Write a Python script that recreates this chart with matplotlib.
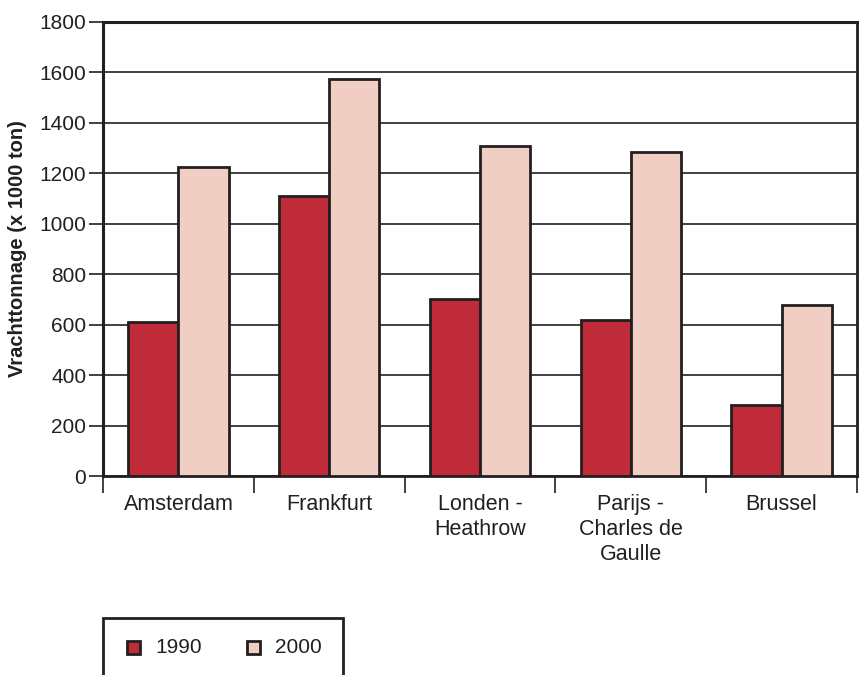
import matplotlib
matplotlib.use("Agg")
import matplotlib.pyplot as plt
import numpy as np
from matplotlib.patches import Rectangle

categories = ["Amsterdam", "Frankfurt", "Londen -\nHeathrow", "Parijs -\nCharles de\nGaulle", "Brussel"]
years = ["1990", "2000"]
values_1990 = [610, 1110, 700, 620, 282]
values_2000 = [1225, 1575, 1310, 1285, 677]

RED = "#C02B39"
PINK = "#F0CEC4"
EDGE = "#231F20"

plt.rcParams["font.family"] = ["Liberation Sans", "DejaVu Sans"]

fig = plt.figure(figsize=(8.59, 6.75), dpi=100)
ax = fig.add_axes([103 / 859, 199 / 675, 754 / 859, 454 / 675])

x = np.arange(len(categories))
w = 1 / 3
ax.bar(x - w / 2, values_1990, w, color=RED, edgecolor=EDGE, linewidth=2, zorder=3)
ax.bar(x + w / 2, values_2000, w, color=PINK, edgecolor=EDGE, linewidth=2, zorder=3)

ax.set_xlim(-0.5, len(categories) - 0.5)
ax.set_ylim(0, 1800)
ax.set_yticks(np.arange(0, 1801, 200))
ax.yaxis.grid(True, color="#333333", linewidth=1.3, zorder=0)

# ticks at group boundaries, labels centred under groups
ax.set_xticks(np.arange(len(categories) + 1) - 0.5)
ax.set_xticklabels([])
ax.set_xticks(x, minor=True)
ax.set_xticklabels(categories, minor=True, fontsize=15.5, color="#231F20", linespacing=1.25)
ax.tick_params(axis="x", which="major", length=12, width=1.3, color="#333333", direction="out")
ax.tick_params(axis="x", which="minor", length=0, pad=13)
ax.tick_params(axis="y", length=10, width=1.3, color="#333333", labelsize=15, labelcolor="#231F20", pad=2)

for s in ["left", "top"]:
    ax.spines[s].set_linewidth(2.2)
    ax.spines[s].set_color(EDGE)
for s in ["bottom", "right"]:
    ax.spines[s].set_linewidth(2)
    ax.spines[s].set_color(EDGE)

ax.set_ylabel("Vrachttonnage (x 1000 ton)", fontsize=14.5, fontweight="bold", color="#231F20", labelpad=9)

# legend box cut at the bottom edge
fig.patches.append(Rectangle((103 / 859, -10 / 675), 240 / 859, 67 / 675,
                             transform=fig.transFigure, facecolor="white",
                             edgecolor=EDGE, linewidth=2, clip_on=False))
for col, lab, lx in [(RED, years[0], 127), (PINK, years[1], 247)]:
    fig.patches.append(Rectangle((lx / 859, 21 / 675), 13 / 859, 13 / 675,
                                 transform=fig.transFigure, facecolor=col,
                                 edgecolor=EDGE, linewidth=2))
    fig.text((lx + 28) / 859, 27.5 / 675, lab, fontsize=15, va="center", ha="left", color="#231F20")

fig.savefig("out.png", dpi=100)
